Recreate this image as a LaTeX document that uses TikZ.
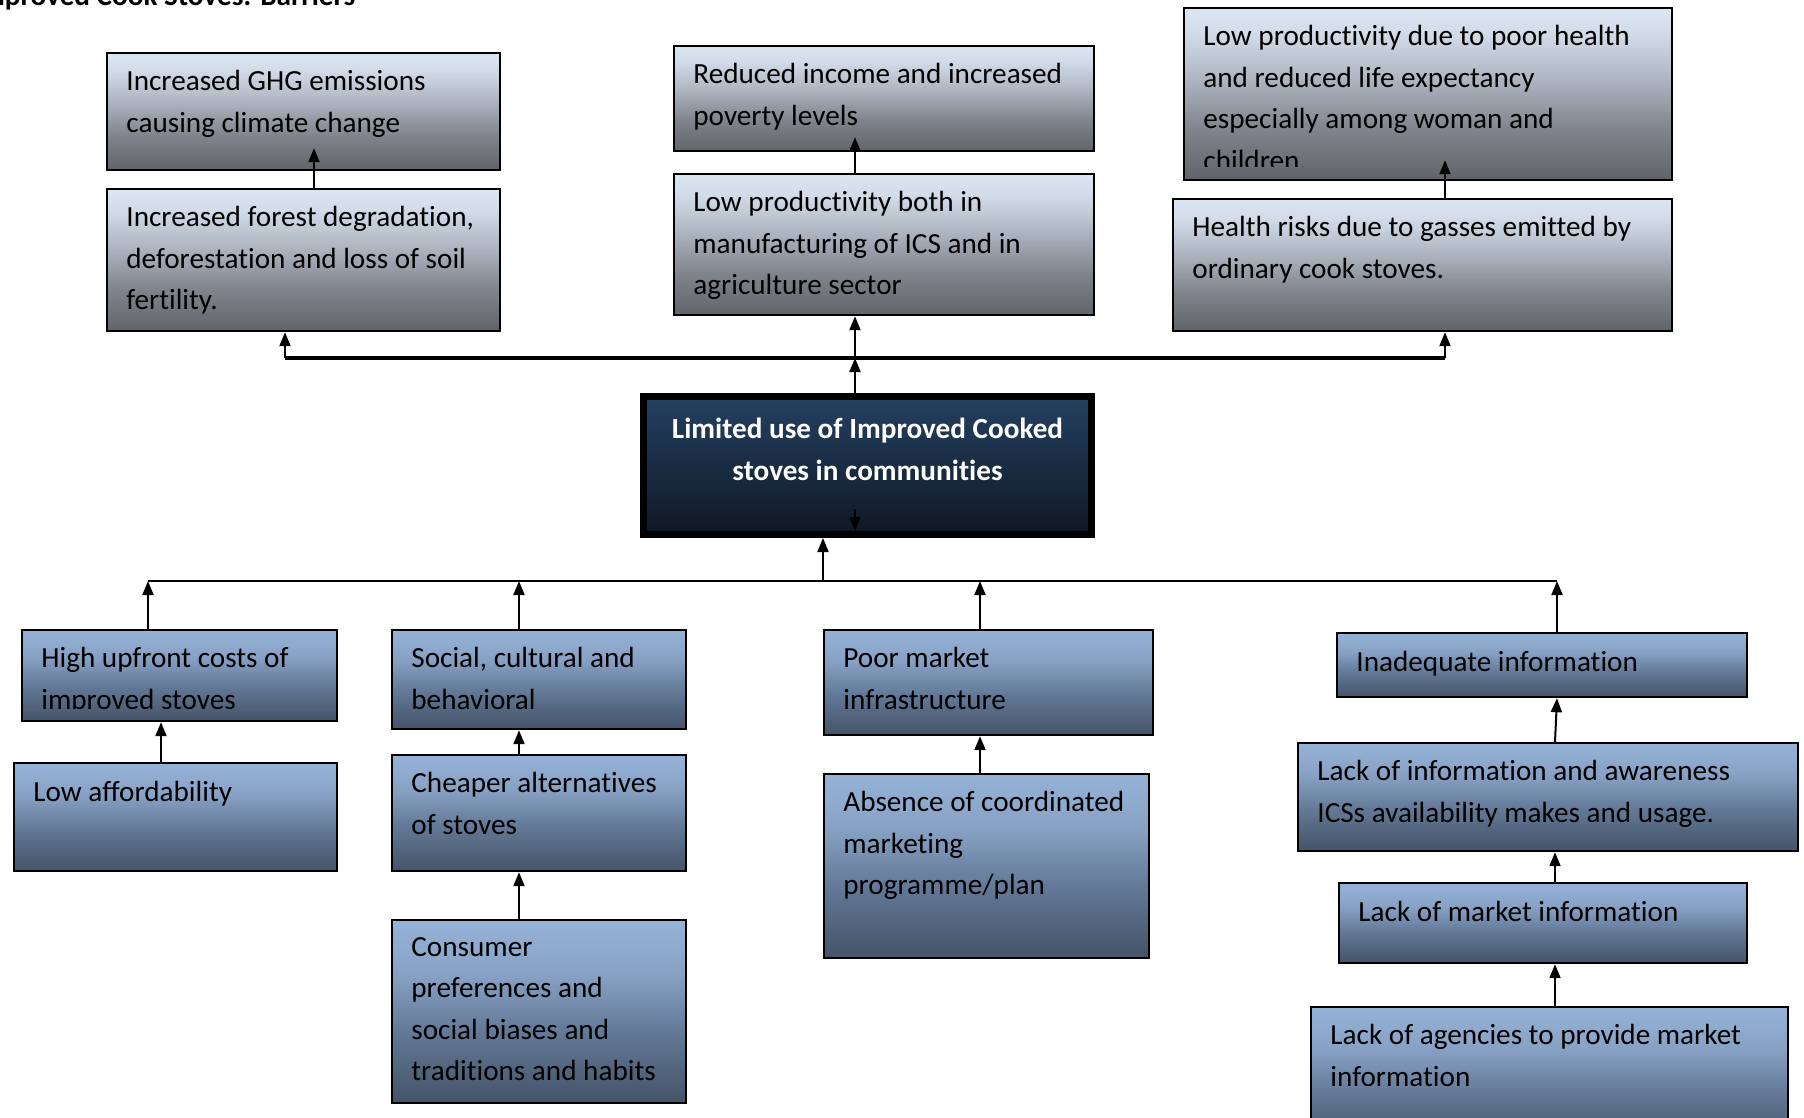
\documentclass[tikz,border=0pt]{standalone}
\usepackage{fontspec}
\setmainfont{Carlito}[Ligatures=NoCommon]
\usetikzlibrary{arrows.meta,calc}

% fills: grey effect boxes, blue cause boxes, dark core problem
\definecolor{tdark}{RGB}{96,100,106}
\definecolor{tmid}{RGB}{128,133,141}
\definecolor{tmidb}{RGB}{176,183,195}
\definecolor{tmidc}{RGB}{211,220,233}
\definecolor{tlight}{RGB}{220,230,242}
\definecolor{bdark}{RGB}{68,83,104}
\definecolor{bmid}{RGB}{100,122,152}
\definecolor{bmidb}{RGB}{135,161,196}
\definecolor{blight}{RGB}{149,179,215}
\definecolor{cdark}{RGB}{15,24,36}
\definecolor{clight}{RGB}{37,64,98}

\pgfdeclareverticalshading{effectfill}{100bp}{color(0bp)=(tdark); color(25bp)=(tdark); color(40bp)=(tmid); color(55bp)=(tmidb); color(68bp)=(tmidc); color(75bp)=(tlight); color(100bp)=(tlight)}
\pgfdeclareverticalshading{causefill}{100bp}{color(0bp)=(bdark); color(25bp)=(bdark); color(45bp)=(bmid); color(60bp)=(bmidb); color(75bp)=(blight); color(100bp)=(blight)}
\pgfdeclareverticalshading{corefill}{100bp}{color(0bp)=(cdark); color(25bp)=(cdark); color(75bp)=(clight); color(100bp)=(clight)}

% box: style, name, north-west x, y, width, height (all in px units)
\newcommand\probbox[6]{\node[#1,minimum width={#5*0.5pt},minimum height={#6*0.5pt}] (#2) at (#3,#4) {};}
% text inside a box: name, box name, lines (multi-line and single-line variants)
\newcommand\boxtext[3]{\node[txt] (#1) at ($(#2.north west)+(20,18)$) {#3};}
\newcommand\boxline[3]{\node[txt] (#1) at ($(#2.north west)+(20,10)$) {#3};}

\begin{document}
\begin{tikzpicture}[x=0.5pt,y=-0.5pt,
  effect/.style={draw=black,line width=1.1pt,shading=effectfill,anchor=north west,inner sep=0pt},
  cause/.style={draw=black,line width=1.1pt,shading=causefill,anchor=north west,inner sep=0pt},
  corebox/.style={draw=black,line width=3.5pt,shading=corefill,inner sep=0pt,
    minimum width=224pt,minimum height=69pt},
  txt/.style={anchor=north west,inner sep=0pt,align=left,text=black,
    font=\fontsize{14.6pt}{20.75pt}\selectfont,execute at begin node=\strut},
  coretext/.style={anchor=north,inner sep=0pt,align=center,text=white,
    font=\bfseries\fontsize{14.6pt}{20.75pt}\selectfont,execute at begin node=\strut},
  arr/.style={line width=1pt,-{Triangle[length=7pt,width=5.5pt]}},
 ]
\useasboundingbox (0,0) rectangle (1804,1118);
\fill[white] (0,0) rectangle (1804,1118);
\clip (0,0) rectangle (1804,1118);

% heading
\node[anchor=base west,inner sep=0pt,font=\bfseries\fontsize{14.6pt}{20.75pt}\selectfont]
  (title) at (-27,5.5) {Improved Cook Stoves: Barriers};

% ---------- effects ----------
\probbox{effect}{ghg}{106}{52}{393}{117}
\probbox{effect}{forest}{106}{188}{393}{142}
\probbox{effect}{inc}{673}{45}{420}{105}
\probbox{effect}{lowp}{673}{173}{420}{141}
\probbox{effect}{hlt}{1183}{7}{488}{172}
\probbox{effect}{hrisk}{1172}{198}{499}{132}

\boxtext{ghgt}{ghg}{Increased GHG emissions\\causing climate change}
\boxtext{forestt}{forest}{Increased forest degradation,\\deforestation and loss of soil\\fertility.}
\boxtext{inct}{inc}{Reduced income and increased\\poverty levels}
\boxtext{lowpt}{lowp}{Low productivity both in\\manufacturing of ICS and in\\agriculture sector}
\begin{scope}
  \clip (hlt.north west) rectangle ($(hlt.south east)+(0,-15)$);
  \boxtext{hltt}{hlt}{Low productivity due to poor health\\and reduced life expectancy\\especially among woman and\\children.}
\end{scope}
\boxtext{hriskt}{hrisk}{Health risks due to gasses emitted by\\ordinary cook stoves.}

% ---------- core problem ----------
\node[corebox] (core) at (867.5,465.5) {};
\node[coretext] (coret) at ($(core.north)+(0,25)$) {Limited use of Improved Cooked\\stoves in communities};

% ---------- causes ----------
\probbox{cause}{hup}{21}{629}{315}{91}
\probbox{cause}{lowa}{13}{762}{323}{108}
\probbox{cause}{soc}{391}{629}{294}{99}
\probbox{cause}{chp}{391}{754}{294}{116}
\probbox{cause}{cons}{391}{919}{294}{183}
\probbox{cause}{poor}{823}{629}{329}{105}
\probbox{cause}{abs}{823}{773}{325}{184}
\probbox{cause}{inad}{1336}{632}{410}{64}
\probbox{cause}{linfo}{1297}{742}{500}{108}
\probbox{cause}{lmkt}{1338}{882}{408}{80}
\probbox{cause}{agen}{1310}{1006}{477}{140}

\begin{scope}
  \clip (hup.north west) rectangle ($(hup.south east)+(0,-14)$);
  \boxtext{hupt}{hup}{High upfront costs of\\improved stoves}
\end{scope}
\boxline{lowat}{lowa}{Low affordability}
\boxtext{soct}{soc}{Social, cultural and\\behavioral}
\boxtext{chpt}{chp}{Cheaper alternatives\\of stoves}
\boxtext{const}{cons}{Consumer\\preferences and\\social biases and\\traditions and habits}
\boxtext{poort}{poor}{Poor market\\infrastructure}
\boxtext{abst}{abs}{Absence of coordinated\\marketing\\programme/plan}
\boxline{inadt}{inad}{Inadequate information}
\boxtext{linfot}{linfo}{Lack of information and awareness\\ICSs availability makes and usage.}
\boxline{lmktt}{lmkt}{Lack of market information}
\boxtext{agent}{agen}{Lack of agencies to provide market\\information}

% ---------- connectors: effects ----------
\coordinate (tl) at (285,358);
\coordinate (tm) at (855,358);
\coordinate (tr) at (1445,358);
\coordinate (xg) at (314,0);
\draw[line width=1.7pt] (tl) -- (tr);
\draw[arr] (tl) -- (tl |- forest.south);
\draw[arr] (tr) -- (tr |- hrisk.south);
\draw[arr] (tm) -- (tm |- lowp.south);
\draw[arr] (tm |- core.north) -- (tm);
\draw[arr] (xg |- forest.north) -- ($(xg |- ghg.south)+(0,-23)$);
\draw[arr] (tm |- lowp.north) -- ($(tm |- inc.south)+(0,-15)$);
\draw[arr] (tr |- hrisk.north) -- ($(tr |- hlt.south)+(0,-21)$);
\draw[arr] ($(tm |- core.south)+(0,-29)$) -- ($(tm |- core.south)+(0,-7)$);

% ---------- connectors: causes ----------
\coordinate (bl) at (148,581);
\coordinate (bs) at (519,581);
\coordinate (bc) at (823,581);
\coordinate (bp) at (980,581);
\coordinate (br) at (1557,581);
\coordinate (xa) at (161,0);
\draw[line width=0.75pt] (bl) -- (br);
\draw[arr] (bc) -- (bc |- core.south);
\draw[arr] (bl |- hup.north) -- (bl);
\draw[arr] (bs |- soc.north) -- (bs);
\draw[arr] (bp |- poor.north) -- (bp);
\draw[arr] (br |- inad.north) -- (br);
\draw[arr] (xa |- lowa.north) -- (xa |- hup.south);
\draw[arr] (bs |- chp.north) -- (bs |- soc.south);
\draw[arr] (bs |- cons.north) -- (bs |- chp.south);
\draw[arr] (bp |- abs.north) -- (bp |- poor.south);
\draw[arr] ($(br |- linfo.north)+(-2,0)$) -- (br |- inad.south);
\draw[arr] ($(br |- lmkt.north)+(-2,0)$) -- ($(br |- linfo.south)+(-2,0)$);
\draw[arr] ($(br |- agen.north)+(-2,0)$) -- ($(br |- lmkt.south)+(-2,0)$);
\end{tikzpicture}
\end{document}
